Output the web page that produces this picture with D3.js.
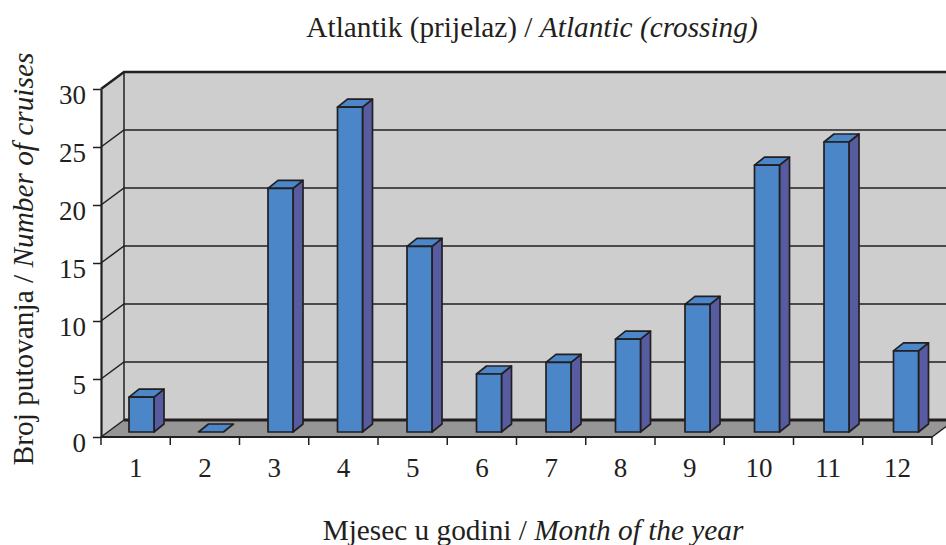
<!DOCTYPE html>
<html lang="en">
<head>
    <meta charset="UTF-8">
    <title>Atlantik (prijelaz) / Atlantic (crossing)</title>
    <script src="https://d3js.org/d3.v7.min.js"></script>
    <style>
        body { margin: 0; background: #fff; }
        svg { display: block; }
        text { font-family: "Liberation Serif", serif; fill: #231f20; }
        .axis path, .axis line { stroke: #231f20; }
    </style>
</head>
<body>
    <svg width="946" height="545"></svg>
    <script>
        // Data
        const months = ["1", "2", "3", "4", "5", "6", "7", "8", "9", "10", "11", "12"];
        const cruises = [3, 0, 21, 28, 16, 5, 6, 8, 11, 23, 25, 7];
        const yTicks = [0, 5, 10, 15, 20, 25, 30];

        const svg = d3.select("svg");
        const ink = "#231f20";

        // Scales for the front edge of the 3D box
        const y = d3.scaleLinear().domain([0, 30]).range([437, 89]);
        const xBand = d3.scaleBand().domain(months).range([103, 937]);
        const xTick = d3.scaleLinear().domain([0, 12]).range([101, 932]);

        // 3D offsets: wall depth and bar depth
        const depth = { x: 23, y: -17 };
        const barDepth = { x: 10, y: -8 };
        const barW = 25;
        const barShift = -8.75;
        const barBase = -5;

        const poly = pts => pts.map(p => p.join(",")).join(" ");
        const x0 = xTick(0), x1 = xTick(12), y0 = y(0), yTop = y(30);

        // Back wall, side wall and floor
        svg.append("polygon")
            .attr("points", poly([[x0 + depth.x, yTop + depth.y], [x1 + depth.x, yTop + depth.y], [x1 + depth.x, y0 + depth.y], [x0 + depth.x, y0 + depth.y]]))
            .attr("fill", "#cecece");
        svg.append("polygon")
            .attr("points", poly([[x0, yTop], [x0 + depth.x, yTop + depth.y], [x0 + depth.x, y0 + depth.y], [x0, y0]]))
            .attr("fill", "#cecece");
        svg.append("polygon")
            .attr("points", poly([[x0, y0], [x0 + depth.x, y0 + depth.y], [x1 + depth.x, y0 + depth.y], [x1, y0]]))
            .attr("fill", "#969696");

        // Gridlines on both walls
        svg.append("g").selectAll("polyline")
            .data(yTicks.slice(1))
            .join("polyline")
            .attr("points", d => poly([[x0, y(d)], [x0 + depth.x, y(d) + depth.y], [x1 + depth.x, y(d) + depth.y]]))
            .attr("fill", "none")
            .attr("stroke", ink)
            .attr("stroke-width", d => d === 30 ? 2.5 : 1.5);

        // Wall edges
        svg.append("line")
            .attr("x1", x0 + depth.x).attr("x2", x0 + depth.x)
            .attr("y1", yTop + depth.y).attr("y2", y0 + depth.y)
            .attr("stroke", ink).attr("stroke-width", 1.5);
        svg.append("line")
            .attr("x1", x0 + depth.x).attr("x2", x1 + depth.x)
            .attr("y1", y0 + depth.y).attr("y2", y0 + depth.y)
            .attr("stroke", ink).attr("stroke-width", 3);
        svg.append("polyline")
            .attr("points", poly([[x0, y0], [x0 + depth.x, y0 + depth.y]]))
            .attr("stroke", ink).attr("stroke-width", 1.5);
        svg.append("polyline")
            .attr("points", poly([[x1, y0], [x1 + depth.x, y0 + depth.y]]))
            .attr("stroke", ink).attr("stroke-width", 1.5);

        // Bars
        const bars = svg.append("g").selectAll("g")
            .data(months.map((m, i) => ({ m, v: cruises[i] })))
            .join("g")
            .attr("stroke", ink)
            .attr("stroke-width", 1.7)
            .attr("stroke-linejoin", "round");

        const barLeft = d => xBand(d.m) + xBand.bandwidth() / 2 + barShift;
        const barTop = d => y(d.v) + barBase;
        const barBottom = y0 + barBase;

        bars.filter(d => d.v > 0).append("polygon")
            .attr("fill", "#575b9f")
            .attr("points", d => poly([
                [barLeft(d) + barW, barTop(d)],
                [barLeft(d) + barW + barDepth.x, barTop(d) + barDepth.y],
                [barLeft(d) + barW + barDepth.x, barBottom + barDepth.y],
                [barLeft(d) + barW, barBottom]
            ]));
        bars.append("polygon")
            .attr("fill", "#4a86c8")
            .attr("points", d => poly([
                [barLeft(d), barTop(d)],
                [barLeft(d) + barDepth.x, barTop(d) + barDepth.y],
                [barLeft(d) + barW + barDepth.x, barTop(d) + barDepth.y],
                [barLeft(d) + barW, barTop(d)]
            ]));
        bars.filter(d => d.v > 0).append("rect")
            .attr("fill", "#4a86c8")
            .attr("x", barLeft)
            .attr("y", barTop)
            .attr("width", barW)
            .attr("height", d => barBottom - barTop(d));

        // Y axis
        const yAxis = d3.axisLeft(y).tickValues(yTicks).tickSize(8).tickSizeOuter(0).tickPadding(7);
        const yG = svg.append("g")
            .attr("class", "axis")
            .attr("transform", `translate(${x0},0)`)
            .call(yAxis);
        yG.select(".domain").attr("stroke-width", 2.2);
        yG.selectAll(".tick line").attr("stroke-width", 1.5);
        yG.selectAll(".tick text")
            .attr("dy", "0.52em")
            .style("font-family", '"Liberation Serif", serif')
            .style("font-size", "27px")
            .attr("fill", ink);

        // X axis: ticks between the months, labels centred on them
        svg.append("line")
            .attr("x1", x0).attr("x2", x1)
            .attr("y1", y0).attr("y2", y0)
            .attr("stroke", ink).attr("stroke-width", 2.2);
        svg.append("g").selectAll("line")
            .data(d3.range(13))
            .join("line")
            .attr("x1", d => xTick(d)).attr("x2", d => xTick(d))
            .attr("y1", y0).attr("y2", y0 + 8)
            .attr("stroke", ink).attr("stroke-width", 1.5);
        svg.append("g").selectAll("text")
            .data(months)
            .join("text")
            .attr("x", (d, i) => xTick(i + 0.5))
            .attr("y", 477)
            .attr("text-anchor", "middle")
            .style("font-size", "27px")
            .text(d => d);

        // Title and axis titles: plain part plus italic part
        function label(x, y, plain, italic, rotate) {
            const t = svg.append("text")
                .attr("text-anchor", "middle")
                .attr("transform", `translate(${x},${y})` + (rotate ? ` rotate(${rotate})` : ""))
                .style("font-size", "29.3px");
            t.append("tspan").text(plain);
            t.append("tspan").style("font-style", "italic").text(italic);
        }
        label(532, 37, "Atlantik (prijelaz) / ", "Atlantic (crossing)");
        label(533, 540, "Mjesec u godini / ", "Month of the year");
        label(33, 259, "Broj putovanja / ", "Number of cruises", -90);
    </script>
</body>
</html>
